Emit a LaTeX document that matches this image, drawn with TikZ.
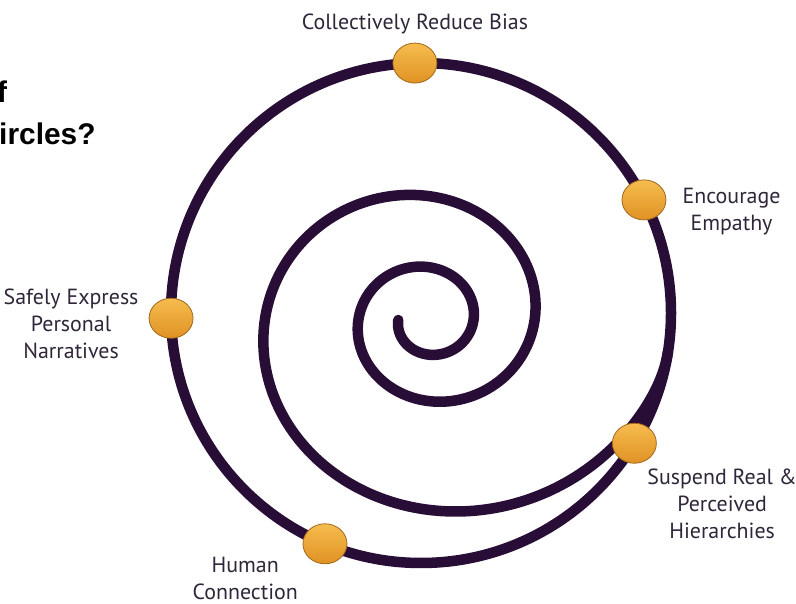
\documentclass[tikz,border=0pt]{standalone}
\usepackage{fontspec}
\usepackage{tikz}
\usetikzlibrary{positioning, shapes.geometric, calc}
\setmainfont{PT Sans}
\newfontfamily\headfont{Liberation Sans}
\definecolor{spiralpurple}{RGB}{40, 14, 54}
\definecolor{dotlight}{RGB}{246, 188, 78}
\definecolor{dotdark}{RGB}{224, 146, 36}
\definecolor{dotrim}{RGB}{160, 104, 28}
\definecolor{labelgray}{RGB}{48, 38, 58}

\begin{document}
\begin{tikzpicture}[
        x=1bp, y=1bp,
        spiral/.style={draw=spiralpurple, line width=10.5bp, line cap=round},
        dot/.style={ellipse, minimum width=44bp, minimum height=40bp, inner sep=0pt,
                    top color=dotlight, bottom color=dotdark, draw=dotrim, line width=0.8bp},
        lbl/.style={align=center, text=labelgray, inner sep=0pt,
                    font=\fontsize{22}{27}\selectfont},
        head/.style={anchor=base west, inner sep=0pt,
                    font=\headfont\bfseries\fontsize{30}{36}\selectfont}
      ]
        \useasboundingbox (0,0) rectangle (796,604);
        \fill[white] (0,0) rectangle (796,604);
        \coordinate (O) at (421,291);
        \coordinate (merge) at ($(O)+(-9:250)$);

        % outer ring and the spiral that runs into it
        \draw[spiral] (O) circle[radius=250];
        \draw[spiral] plot[domain=180:1049, samples=300, smooth, variable=\t]
            ({428+45.5*exp(0.0023626*(\t-360))*cos(\t)},
             {284+0.94*45.5*exp(0.0023626*(\t-360))*sin(\t)})
            .. controls +(50:30) and +(261:30) .. (merge);

        \node[dot] (bias)        at ($(O)+(91.4:250)$)   {};
        \node[dot] (empathy)     at ($(O)+(26.9:250)$)   {};
        \node[dot] (narratives)  at ($(O)+(181.2:250)$)  {};
        \node[dot] (hierarchies) at ($(O)+(-31.4:250)$)  {};
        \node[dot] (connection)  at ($(O)+(-112.6:250)$) {};

        \node[lbl, above=8bp of bias] (biastext) {Collectively Reduce Bias};
        \node[lbl, right=16bp of empathy, yshift=-12bp] (empathytext) {Encourage\\Empathy};
        \node[lbl, left=10bp of narratives, yshift=-6bp] (narrativestext) {Safely Express\\Personal\\Narratives};
        \node[lbl, below right=11bp and -3bp of hierarchies] (hierarchiestext) {Suspend Real \&\\Perceived\\Hierarchies};
        \node[lbl, below left=-1bp and 11bp of connection] (connectiontext) {Human\\Connection};

        \node[head] (titleof) at (-3,501) {f};
        \node[head] (titlecircles) at (-1,459) {ircles?};
      \end{tikzpicture}
\end{document}
